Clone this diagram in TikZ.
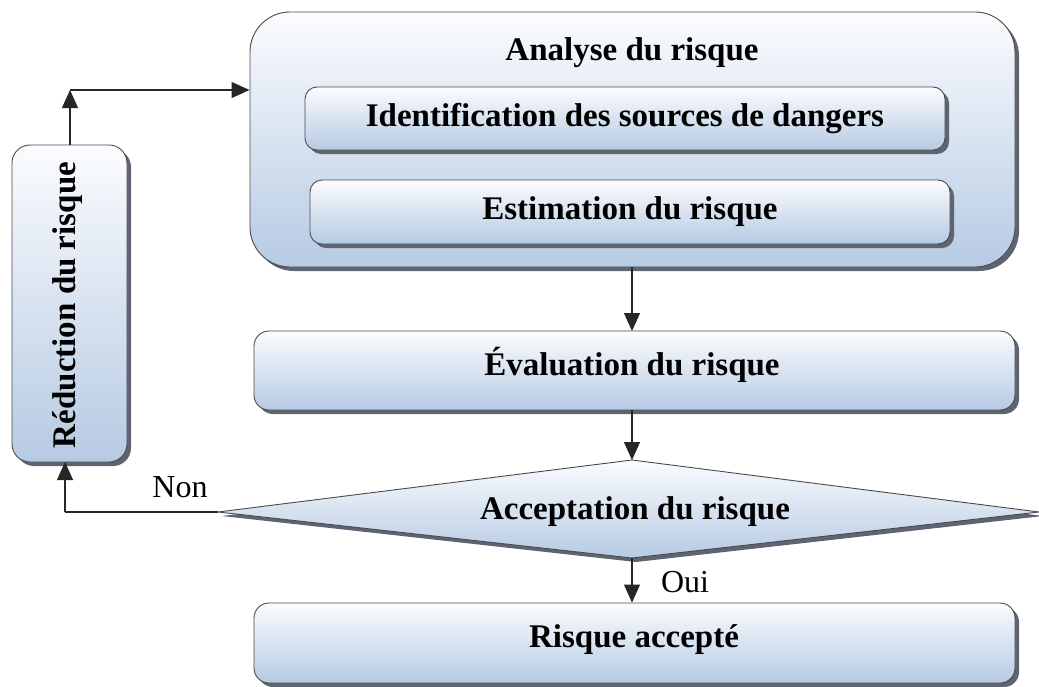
\documentclass[tikz,border=0pt]{standalone}
\usepackage{fontspec}
\setmainfont{Liberation Serif}
\usetikzlibrary{arrows.meta,shadows}
\definecolor{boxtop}{HTML}{FBFCFE}
\definecolor{boxbot}{HTML}{B6CAE3}
\definecolor{shadowc}{HTML}{5E6472}
\definecolor{edgec}{HTML}{4A4A4A}
\begin{document}
\begin{tikzpicture}[x=1pt,y=-1pt,
  box/.style={draw=edgec, line width=0.9pt, top color=boxtop, bottom color=boxbot,
    drop shadow={shadow xshift=4pt, shadow yshift=-4pt, fill=shadowc, opacity=1},
    inner sep=0pt},
  lbl/.style={font=\bfseries\fontsize{33}{38}\selectfont, inner sep=0pt},
  plain/.style={font=\fontsize{32}{36}\selectfont, inner sep=0pt},
  conn/.style={line width=1.1pt, draw=black!85, -{Triangle[length=18pt,width=16pt]}}
]
\useasboundingbox (0,0) rectangle (1039,686);

% Analyse du risque container
\node[box, rounded corners=40pt, minimum width=765pt, minimum height=255pt] (analyse) at (632.5,139.5) {};
\node[lbl] (atitle) at (632,53) {Analyse du risque};
\node[box, rounded corners=12pt, minimum width=640pt, minimum height=63pt] (ident) at (625,118.5) {};
\node[lbl] at (ident.center) {Identification des sources de dangers};
\node[box, rounded corners=12pt, minimum width=640pt, minimum height=64pt] (estim) at (630,212) {};
\node[lbl] at (estim.center) {Estimation du risque};

% Evaluation
\node[box, rounded corners=15pt, minimum width=761pt, minimum height=79pt] (eval) at (634.5,370.5) {};
\node[lbl] at (632,365) {Évaluation du risque};

% Decision diamond
\coordinate (dtop) at (632,460);
\coordinate (dleft) at (218,512);
\coordinate (dright) at (1039,512);
\coordinate (dbot) at (632,558);
\fill[shadowc] ([shift={(4,4)}]dtop) -- ([shift={(4,4)}]dright) -- ([shift={(4,4)}]dbot) -- ([shift={(4,4)}]dleft) -- cycle;
\draw[draw=edgec, line width=0.9pt, top color=boxtop, bottom color=boxbot] (dtop) -- (dright) -- (dbot) -- (dleft) -- cycle;
\node[lbl] (accept) at (635,512) {Acceptation du risque};

% Risque accepte
\node[box, rounded corners=15pt, minimum width=761pt, minimum height=80pt] (ok) at (634.5,643) {};
\node[lbl] at (634,640) {Risque accepté};

% Reduction
\node[box, rounded corners=18pt, minimum width=115pt, minimum height=317pt] (red) at (69.5,303.5) {};
\node[lbl, rotate=90] at (68,305) {Réduction du risque};

% Connectors
\draw[conn] (analyse.south -| 632,0) -- (632,331);
\draw[conn] (eval.south -| dtop) -- (dtop);
\draw[conn] (dbot) -- (dbot |- ok.north);
\coordinate (nonturn) at (65,512);
\draw[line width=1.1pt, draw=black!85] (dleft) -- (nonturn);
\draw[conn] (nonturn) -- (65,462);
\coordinate (upcorner) at (70,90);
\draw[conn] (red.north -| upcorner) -- (upcorner);
\draw[conn] (upcorner) -- (upcorner -| analyse.west);

% Labels
\node[plain] at (180,487) {Non};
\node[plain] at (685,582) {Oui};
\end{tikzpicture}
\end{document}
